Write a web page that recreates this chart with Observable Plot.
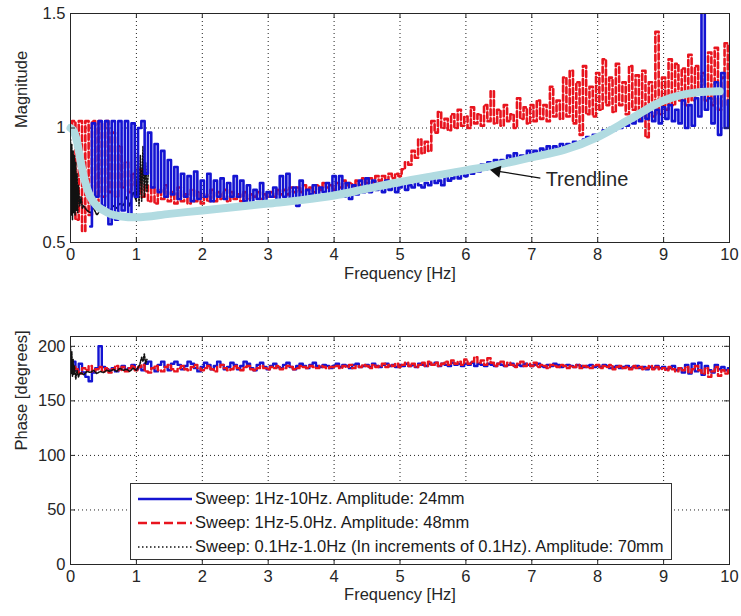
<!DOCTYPE html>
<html>
<head>
<meta charset="utf-8">
<script src="https://cdn.jsdelivr.net/npm/d3@7"></script>
<script src="https://cdn.jsdelivr.net/npm/@observablehq/plot@0.6"></script>
<style>
  html, body { margin: 0; padding: 0; background: #fff; }
  #figure { position: relative; width: 741px; height: 616px; font-family: "Liberation Sans", Arial, sans-serif; }
  #figure svg { display: block; }
  .legend { position: absolute; left: 130px; top: 483px; width: 542px; height: 77px;
            border: 1px solid #333; background: #fff; box-sizing: border-box; }
  .legend .row { position: absolute; left: 0; height: 24px; display: flex; align-items: center;
                 font-size: 16.5px; color: #1a1a1a; white-space: nowrap; }
  .legend svg { margin-left: 7px; margin-right: 3px; }
</style>
</head>
<body>
<div id="figure"></div>
<script>
// Sampling step of the swept-sine records (Hz); sample i sits at i * STEP
const STEP = 0.05;

// Magnitude, sweep 1Hz-10Hz, amplitude 24mm (one row per Hz)
const blueMag = [
  null, null, null, null, null, null, 0.57, 1.02, 0.70, 1.03, 0.66, 1.03, 0.58, 1.03, 0.60, 1.03, 0.64, 1.03, 0.60, 1.02,
  0.70, 1.00, 1.03, 0.80, 0.98, 0.74, 0.93, 0.72, 0.90, 0.70, 0.86, 0.71, 0.83, 0.69, 0.80, 0.70, 0.79, 0.68, 0.81, 0.69,
  0.77, 0.70, 0.80, 0.68, 0.77, 0.70, 0.78, 0.69, 0.76, 0.70, 0.79, 0.70, 0.77, 0.68, 0.75, 0.67, 0.73, 0.69, 0.76, 0.68,
  0.72, 0.70, 0.74, 0.68, 0.79, 0.70, 0.80, 0.69, 0.74, 0.66, 0.77, 0.69, 0.73, 0.71, 0.75, 0.70, 0.74, 0.72, 0.76, 0.70,
  0.79, 0.72, 0.79, 0.70, 0.76, 0.69, 0.75, 0.71, 0.77, 0.72, 0.78, 0.72, 0.77, 0.73, 0.76, 0.72, 0.77, 0.73, 0.76, 0.72,
  0.74, 0.76, 0.73, 0.75, 0.74, 0.77, 0.75, 0.74, 0.76, 0.75, 0.78, 0.76, 0.77, 0.75, 0.79, 0.77, 0.78, 0.80, 0.78, 0.81,
  0.79, 0.82, 0.80, 0.83, 0.81, 0.84, 0.82, 0.85, 0.83, 0.86, 0.84, 0.86, 0.85, 0.88, 0.86, 0.89, 0.87, 0.88, 0.87, 0.90,
  0.88, 0.90, 0.89, 0.91, 0.90, 0.92, 0.90, 0.92, 0.91, 0.93, 0.92, 0.93, 0.92, 0.94, 0.93, 0.94, 0.95, 0.96, 0.95, 0.97,
  0.96, 0.97, 0.99, 0.98, 1.00, 0.99, 1.01, 1.00, 1.03, 1.01, 1.04, 1.02, 1.05, 1.03, 1.06, 1.04, 1.07, 1.03, 1.08, 1.02,
  1.09, 1.04, 1.10, 1.03, 1.08, 1.02, 1.12, 1.00, 1.10, 1.01, 1.13, 1.05, 1.55, 1.08, 1.13, 1.02, 1.20, 0.97, 1.24, 1.00,
  1.12
];

// Magnitude, sweep 1Hz-5.0Hz, amplitude 48mm
const redMag = [
  0.98, 1.03, 0.60, 1.03, 0.55, 1.03, 0.62, 1.03, 0.68, 1.03, 0.70, 1.03, 0.72, 0.98, 0.70, 0.92, 0.74, 0.85, 0.72, 0.80,
  0.75, 0.82, 0.70, 0.75, 0.68, 0.74, 0.67, 0.73, 0.69, 0.75, 0.68, 0.72, 0.67, 0.74, 0.68, 0.71, 0.67, 0.73, 0.68, 0.72,
  0.67, 0.71, 0.68, 0.73, 0.68, 0.72, 0.69, 0.73, 0.68, 0.72, 0.69, 0.71, 0.68, 0.72, 0.69, 0.71, 0.70, 0.72, 0.69, 0.71,
  0.70, 0.72, 0.70, 0.73, 0.71, 0.73, 0.71, 0.74, 0.72, 0.74, 0.72, 0.75, 0.73, 0.74, 0.72, 0.75, 0.73, 0.76, 0.74, 0.75,
  0.73, 0.76, 0.74, 0.77, 0.75, 0.76, 0.74, 0.77, 0.75, 0.78, 0.76, 0.78, 0.76, 0.79, 0.77, 0.79, 0.77, 0.80, 0.78, 0.80,
  0.79, 0.82, 0.85, 0.84, 0.90, 0.87, 0.95, 0.89, 0.94, 0.90, 1.03, 0.98, 1.07, 1.00, 1.04, 0.99, 1.06, 1.00, 1.08, 1.01,
  1.05, 1.00, 1.09, 1.02, 1.06, 1.01, 1.10, 1.03, 1.16, 1.02, 1.08, 1.01, 1.10, 1.03, 1.06, 1.00, 1.13, 1.04, 1.09, 1.02,
  1.10, 1.03, 1.12, 1.04, 1.10, 1.03, 1.18, 1.05, 1.12, 1.04, 1.22, 1.05, 1.25, 1.02, 1.20, 0.97, 1.27, 1.06, 1.18, 1.05,
  1.24, 1.08, 1.30, 1.10, 1.22, 1.07, 1.28, 1.10, 1.20, 1.06, 1.27, 1.08, 1.23, 1.04, 1.25, 0.96, 1.20, 1.05, 1.42, 1.06,
  1.22, 1.08, 1.30, 1.10, 1.28, 1.12, 1.26, 1.10, 1.32, 1.12, 1.27, 1.15, 1.24, 1.12, 1.33, 1.10, 1.35, 1.08, 1.22, 1.37,
  1.10
];

// Magnitude, sweep 0.1Hz-1.0Hz (increments of 0.1Hz), amplitude 70mm
const blackFreq = [0.00, 0.01, 0.02, 0.03, 0.04, 0.05, 0.06, 0.07, 0.08, 0.09, 0.10, 0.11, 0.12, 0.14, 0.16, 0.18, 0.20,
  0.25, 0.30, 0.35, 0.40, 0.45, 0.50, 0.55, 0.60, 0.65, 0.70, 0.75, 0.80, 0.85, 0.90, 0.95, 1.00,
  1.02, 1.04, 1.06, 1.08, 1.10, 1.12, 1.14, 1.16, 1.18];
const blackMag = [0.95, 0.62, 0.93, 0.60, 0.90, 0.63, 0.88, 0.62, 0.85, 0.64, 0.80, 0.63, 0.75, 0.66, 0.70, 0.65, 0.66,
  0.64, 0.63, 0.65, 0.62, 0.64, 0.63, 0.65, 0.64, 0.66, 0.65, 0.67, 0.66, 0.70, 0.66, 0.72, 0.68,
  0.90, 0.66, 0.88, 0.68, 0.92, 0.70, 0.85, 0.72, 0.80];

// Fitted trendline of the magnitude response
const trendFreq = [0, 0.05, 0.1, 0.15, 0.2, 0.3, 0.4, 0.5, 0.6, 0.75, 1.0, 1.5, 2, 2.5, 3, 3.5, 4, 4.5, 5, 5.5, 6, 6.5, 7, 7.5, 8, 8.5, 9, 9.5, 9.85];
const trendMag  = [1.0, 0.985, 0.94, 0.86, 0.79, 0.70, 0.66, 0.64, 0.625, 0.615, 0.61, 0.625, 0.64, 0.655, 0.67, 0.685, 0.705, 0.735, 0.764, 0.79, 0.815, 0.84, 0.872, 0.905, 0.96, 1.04, 1.12, 1.155, 1.16];

// Phase (degrees), sweep 1Hz-10Hz
const bluePhase = [
  182, 186, 178, 184, 176, 172, 168, 176, 180, 200, 181, 179, 178, 180, 177, 179, 182, 178, 180, 183,
  179, 181, 178, 184, 186, 180, 177, 183, 186, 181, 178, 184, 186, 183, 179, 182, 186, 184, 180, 177,
  181, 185, 183, 179, 182, 186, 183, 179, 181, 185, 183, 179, 182, 186, 184, 180, 178, 183, 185, 181,
  179, 182, 184, 181, 180, 183, 185, 181, 179, 182, 184, 182, 180, 183, 185, 182, 181, 183, 182, 180,
  182, 184, 181, 183, 182, 180, 183, 184, 181, 182, 183, 181, 184, 182, 181, 183, 184, 182, 183, 181,
  183, 182, 184, 182, 183, 181, 184, 183, 182, 184, 183, 185, 182, 184, 183, 182, 185, 183, 184, 182,
  184, 183, 185, 182, 184, 183, 182, 184, 183, 182, 184, 183, 182, 183, 184, 182, 183, 182, 184, 183,
  182, 183, 184, 182, 181, 183, 182, 184, 183, 181, 182, 183, 182, 181, 183, 182, 181, 182, 183, 181,
  182, 181, 183, 182, 180, 181, 182, 180, 181, 182, 180, 181, 182, 180, 181, 179, 181, 180, 182, 180,
  181, 179, 180, 182, 178, 180, 176, 183, 175, 184, 177, 185, 174, 182, 178, 176, 183, 179, 181, 178,
  180
];

// Phase (degrees), sweep 1Hz-5.0Hz
const redPhase = [
  176, 181, 179, 175, 180, 178, 182, 177, 179, 181, 177, 180, 176, 179, 182, 178, 181, 177, 180, 182,
  178, 181, 183, 177, 176, 180, 182, 178, 177, 181, 183, 179, 177, 180, 182, 179, 178, 181, 183, 180,
  178, 180, 182, 179, 177, 181, 183, 180, 178, 179, 182, 180, 178, 181, 182, 179, 178, 180, 182, 180,
  179, 181, 180, 182, 179, 180, 182, 181, 179, 180, 182, 181, 180, 182, 181, 180, 182, 181, 180, 181,
  181, 182, 180, 182, 181, 183, 180, 182, 181, 183, 182, 180, 183, 181, 182, 184, 181, 183, 182, 184,
  181, 183, 185, 182, 184, 181, 183, 185, 182, 186, 183, 185, 182, 184, 186, 183, 187, 184, 186, 183,
  188, 184, 186, 190, 185, 187, 183, 189, 185, 182, 184, 186, 182, 185, 183, 181, 184, 186, 182, 184,
  182, 185, 181, 183, 182, 180, 183, 182, 181, 183, 182, 180, 182, 181, 183, 180, 182, 181, 180, 182,
  183, 180, 182, 181, 183, 179, 181, 182, 180, 181, 179, 182, 180, 181, 179, 180, 182, 179, 181, 179,
  180, 178, 181, 179, 177, 180, 178, 181, 176, 179, 182, 178, 175, 180, 172, 177, 181, 173, 178, 175,
  178
];

// Phase (degrees), sweep 0.1Hz-1.0Hz
const blackPhaseFreq = [0.00, 0.01, 0.02, 0.03, 0.04, 0.05, 0.06, 0.08, 0.10, 0.12, 0.15, 0.20, 0.25, 0.30, 0.35, 0.40, 0.45,
  0.50, 0.55, 0.60, 0.65, 0.70, 0.75, 0.80, 0.85, 0.90, 0.95, 1.00, 1.05, 1.08, 1.10, 1.12, 1.14, 1.16];
const blackPhase = [200, 175, 195, 172, 188, 174, 182, 170, 178, 172, 176, 174, 177, 176, 178, 175, 177,
  176, 178, 177, 179, 177, 180, 178, 179, 177, 180, 178, 183, 190, 186, 193, 184, 188];

// Axis ticks
const freqTicks = [0, 1, 2, 3, 4, 5, 6, 7, 8, 9, 10];
const magTicks = [0.5, 1, 1.5];
const phaseTicks = [0, 50, 100, 150, 200];

// Legend entries
const seriesNames = [
  "Sweep: 1Hz-10Hz. Amplitude: 24mm",
  "Sweep: 1Hz-5.0Hz. Amplitude: 48mm",
  "Sweep: 0.1Hz-1.0Hz (In increments of 0.1Hz). Amplitude: 70mm"
];
const annotation = "Trendline";

// ---- styling ----
const BLUE = "#1414d2";
const RED = "#e8141e";
const BLACK = "#111";
const TREND = "#b1dbe1";
const INK = "#262626";
const FONT = "'Liberation Sans', Arial, Helvetica, sans-serif";
const FS = 16.5;
const W = 741, ML = 70, MR = 12;
const frameW = W - ML - MR;

const withIndex = (arr) => arr.map((v, i) => ({f: i * STEP, v}));
const zip = (fs, vs) => fs.map((f, i) => ({f, v: vs[i]}));

// MATLAB-like box: dotted grid behind the data
function gridMarks(yGrid) {
  return [
    Plot.ruleX(freqTicks.slice(1, -1), {x: d => d, stroke: "#222", strokeWidth: 1, strokeDasharray: "1,3"}),
    Plot.ruleY(yGrid, {y: d => d, stroke: "#222", strokeWidth: 1, strokeDasharray: "1,3"}),
  ];
}
// ...and inward ticks on all four sides, tick labels outside
function boxMarks(yTicks, frameH, yFormat) {
  return [
    Plot.tickX(freqTicks, {x: d => d, stroke: INK, insetTop: frameH - 5}),
    Plot.tickX(freqTicks, {x: d => d, stroke: INK, insetBottom: frameH - 5}),
    Plot.tickY(yTicks, {y: d => d, stroke: INK, insetRight: frameW - 5}),
    Plot.tickY(yTicks, {y: d => d, stroke: INK, insetLeft: frameW - 5}),
    Plot.frame({stroke: INK, strokeWidth: 1}),
    Plot.axisX(freqTicks, {tickSize: 0, tickPadding: 6, label: null, tickFormat: d => String(d)}),
    Plot.axisY(yTicks, {tickSize: 0, tickPadding: 5, label: null, tickFormat: yFormat})
  ];
}

// ---- magnitude panel ----
const magH = 310, magMT = 13, magMB = 68;
const magFrameH = magH - magMT - magMB;
const magnitude = Plot.plot({
  width: W, height: magH,
  marginLeft: ML, marginRight: MR, marginTop: magMT, marginBottom: magMB,
  style: {fontFamily: FONT, fontSize: FS + "px", color: INK, background: "#fff", overflow: "visible"},
  x: {domain: [0, 10], label: null},
  y: {domain: [0.5, 1.5], label: null},
  marks: [
    ...gridMarks([1]),
    Plot.line(withIndex(redMag), {x: "f", y: "v", stroke: RED, strokeWidth: 2.6, strokeDasharray: "6,3", curve: "step", clip: true}),
    Plot.line(zip(blackFreq, blackMag), {x: "f", y: "v", stroke: BLACK, strokeWidth: 1.6, strokeDasharray: "1.5,1.5", clip: true}),
    Plot.line(withIndex(blueMag), {x: "f", y: "v", stroke: BLUE, strokeWidth: 2.6, curve: "step", clip: true}),
    Plot.line(zip(trendFreq, trendMag), {x: "f", y: "v", stroke: TREND, strokeWidth: 8, strokeLinecap: "round", curve: "monotone-x"}),
    Plot.link([{x1: 7.13, y1: 0.781, x2: 6.47, y2: 0.812}], {x1: "x1", y1: "y1", x2: "x2", y2: "y2", stroke: "#111", strokeWidth: 1.2}),
    Plot.dot([{x: 6.47, y: 0.812}], {x: "x", y: "y", symbol: "triangle", r: 4.5, rotate: -80, fill: "#111", stroke: "none"}),
    Plot.text([annotation], {x: 7.21, y: 0.776, text: d => d, textAnchor: "start", fontSize: 20, fill: INK}),
    ...boxMarks(magTicks, magFrameH, d => String(d)),
    Plot.text(["Frequency [Hz]"], {text: d => d, frameAnchor: "bottom", dy: 36, fontSize: FS, fill: INK}),
    Plot.text(["Magnitude"], {text: d => d, frameAnchor: "left", dx: -49, rotate: -90, fontSize: FS, fill: INK})
  ]
});

// ---- phase panel ----
const phH = 306, phMT = 26, phMB = 52;
const phFrameH = phH - phMT - phMB;
const phase = Plot.plot({
  width: W, height: phH,
  marginLeft: ML, marginRight: MR, marginTop: phMT, marginBottom: phMB,
  style: {fontFamily: FONT, fontSize: FS + "px", color: INK, background: "#fff", overflow: "visible"},
  x: {domain: [0, 10], label: null},
  y: {domain: [0, 209], label: null},
  marks: [
    ...gridMarks(phaseTicks.slice(1)),
    Plot.line(withIndex(bluePhase), {x: "f", y: "v", stroke: BLUE, strokeWidth: 2.4, curve: "step", clip: true}),
    Plot.line(withIndex(redPhase), {x: "f", y: "v", stroke: RED, strokeWidth: 2.4, strokeDasharray: "6,3", curve: "step", clip: true}),
    Plot.line(zip(blackPhaseFreq, blackPhase), {x: "f", y: "v", stroke: BLACK, strokeWidth: 1.6, strokeDasharray: "1.5,1.5", clip: true}),
    ...boxMarks(phaseTicks, phFrameH, d => String(d)),
    Plot.text(["Frequency [Hz]"], {text: d => d, frameAnchor: "bottom", dy: 35, fontSize: FS, fill: INK}),
    Plot.text(["Phase [degrees]"], {text: d => d, frameAnchor: "left", dx: -49, rotate: -90, fontSize: FS, fill: INK})
  ]
});

const fig = document.getElementById("figure");
fig.append(magnitude, phase);

// Legend drawn over the phase panel
const legendStyles = [
  {stroke: BLUE, width: 2.6, dash: null},
  {stroke: RED, width: 2.6, dash: "9,4"},
  {stroke: BLACK, width: 1.6, dash: "1.5,2.5"}
];
const legend = document.createElement("div");
legend.className = "legend";
seriesNames.forEach((name, i) => {
  const row = document.createElement("div");
  row.className = "row";
  row.style.top = (2.5 + 24 * i) + "px";
  const s = legendStyles[i];
  row.innerHTML =
    `<svg width="54" height="24"><line x1="0" y1="12" x2="54" y2="12" stroke="${s.stroke}" stroke-width="${s.width}"` +
    (s.dash ? ` stroke-dasharray="${s.dash}"` : "") + `/></svg><span>${name}</span>`;
  legend.append(row);
});
fig.append(legend);
</script>
</body>
</html>
